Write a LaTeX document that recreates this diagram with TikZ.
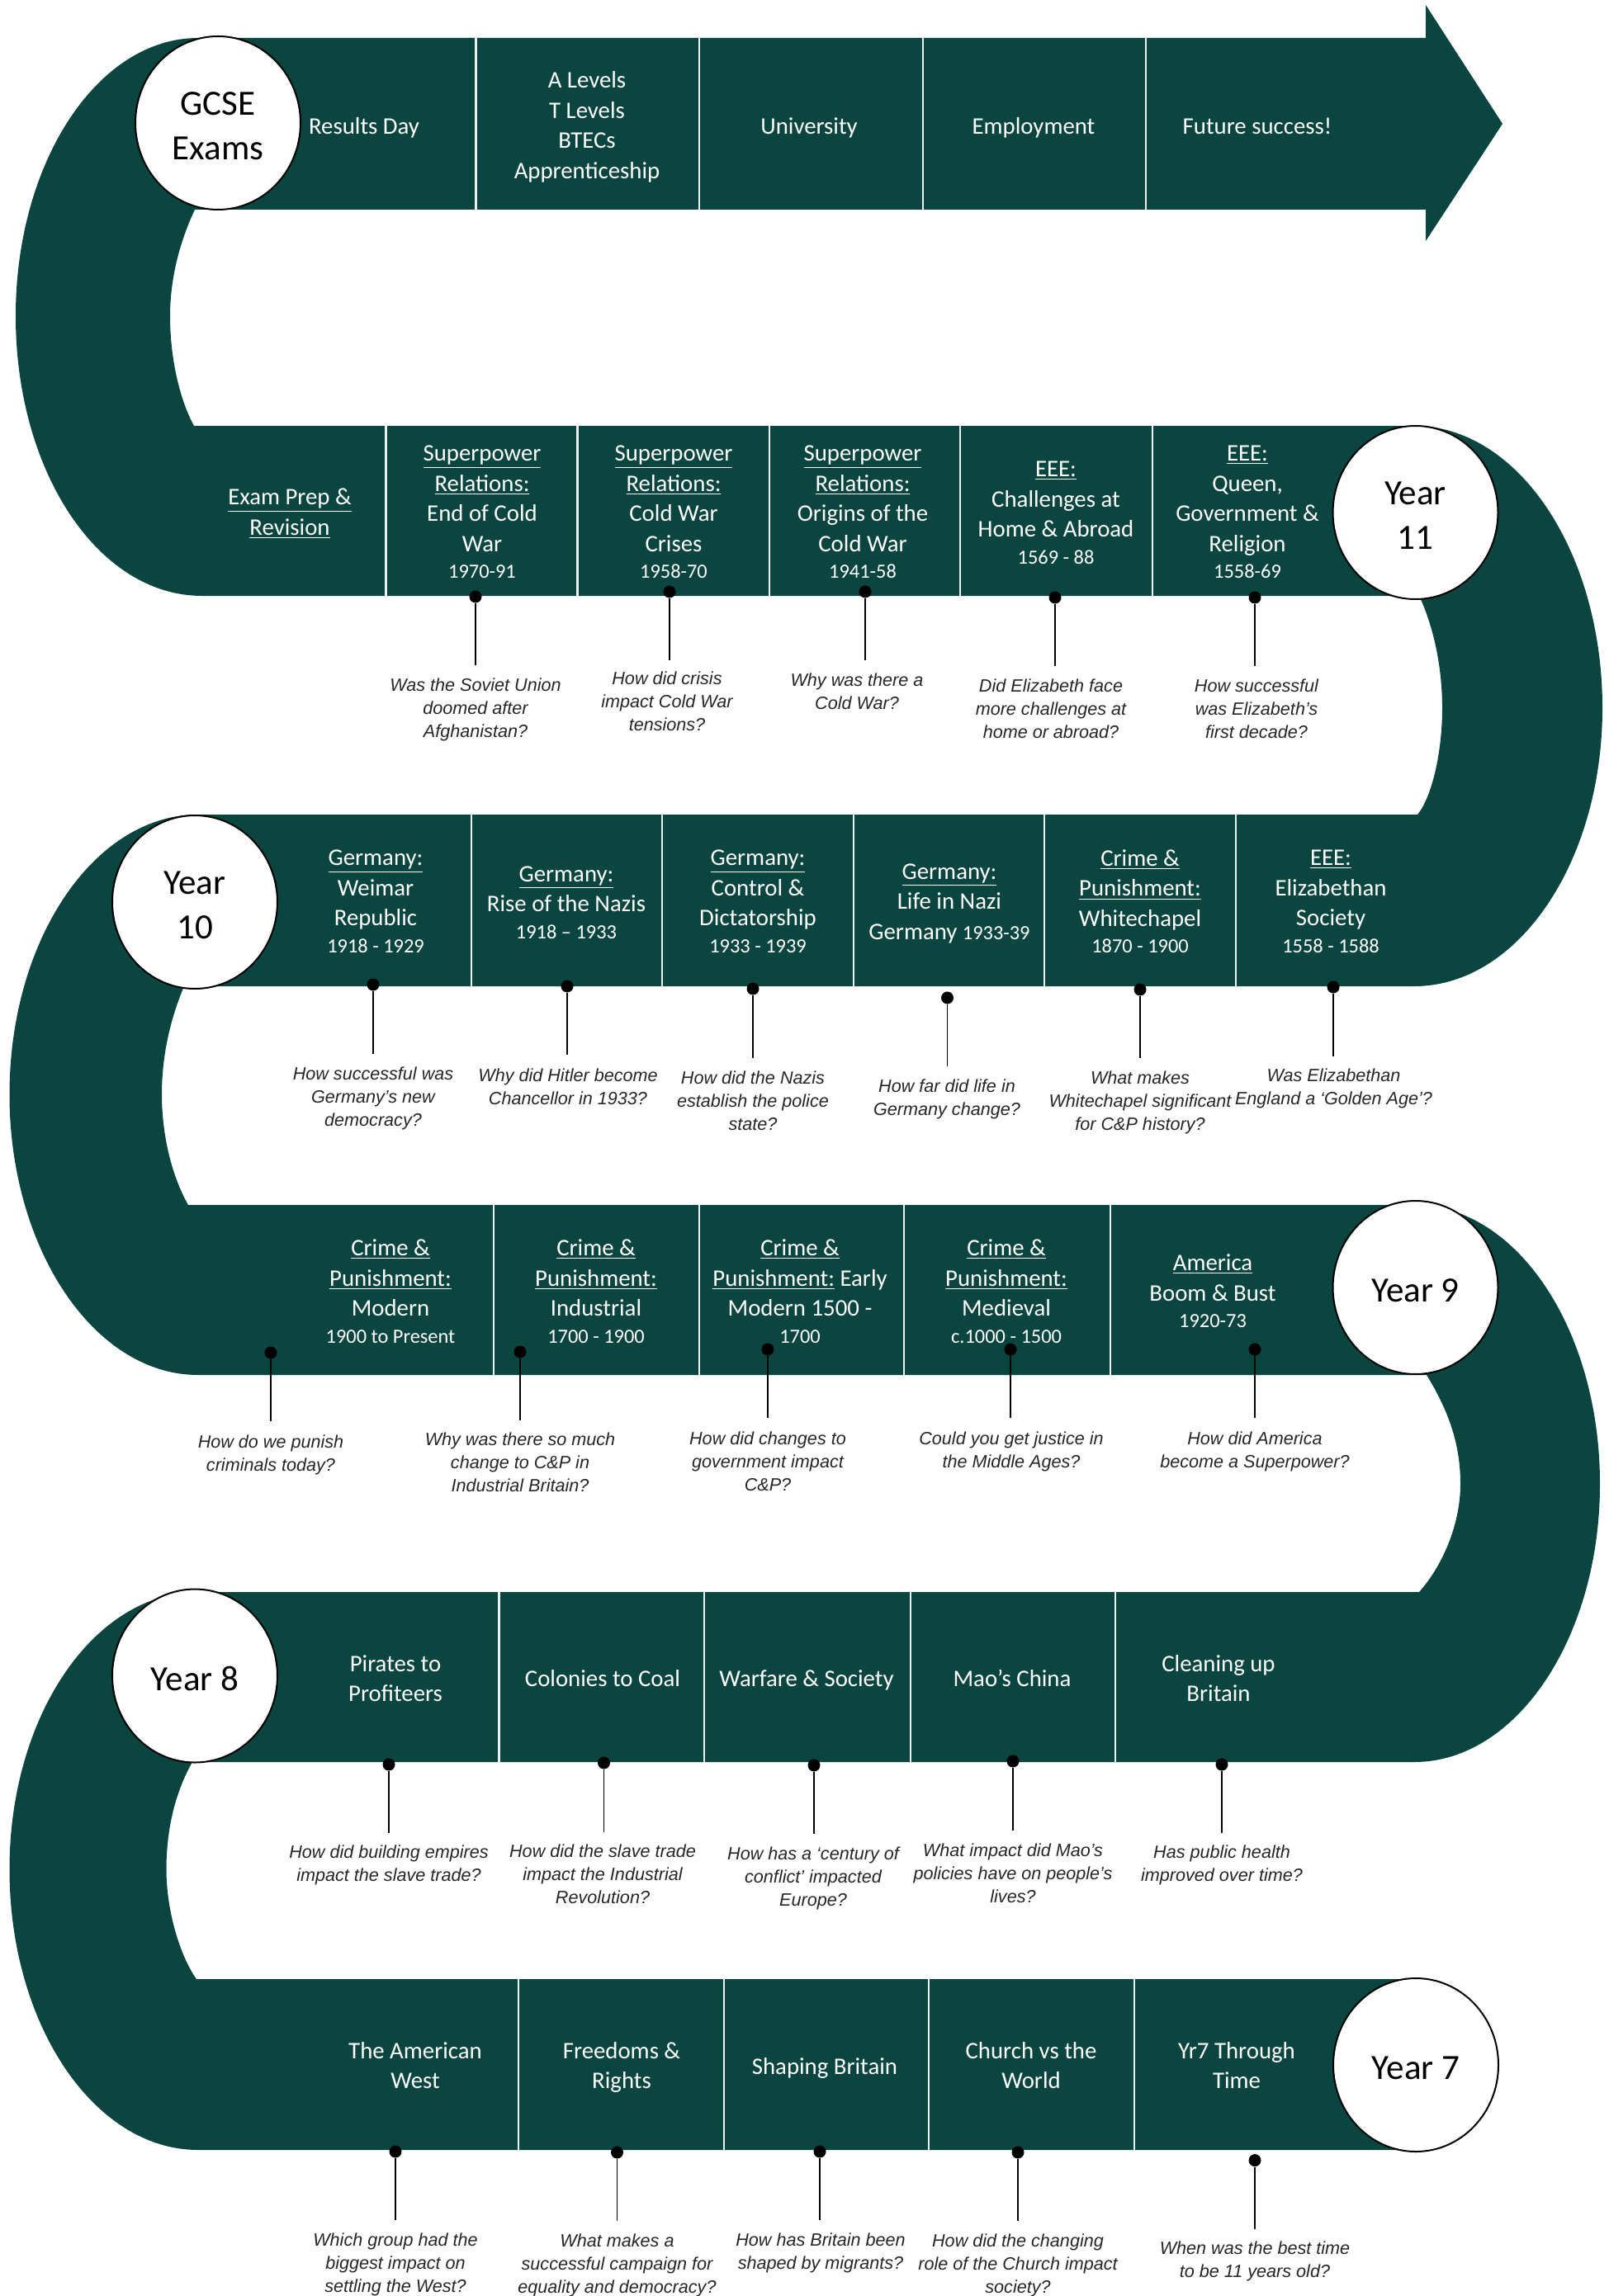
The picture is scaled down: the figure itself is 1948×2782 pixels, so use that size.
\documentclass[tikz,border=0pt]{standalone}
\usepackage{fontspec}
\setmainfont{Carlito}
\newfontfamily\qfont{Liberation Sans}
\usetikzlibrary{shapes.geometric}
\definecolor{bandgreen}{HTML}{0B453F}
\definecolor{qgrey}{HTML}{262626}
\tikzset{
  snake/.style={fill=bandgreen,draw=none},
  divider/.style={draw=white!92!bandgreen,line width=1.2pt},
  cell/.style={text=white,align=center,inner sep=0pt,yshift=-2.4pt,font=\fontsize{14.4}{18.25}\selectfont,
    execute at begin node=\strut,execute at end node=\strut},
  yearc/.style={ellipse,draw=black,line width=1pt,fill=white,text=black,align=center,inner sep=0pt,
    minimum width=100pt,minimum height=105pt,font=\fontsize{21.5}{27}\selectfont},
  pindot/.style={circle,fill=black,draw=none,inner sep=0pt,minimum size=7.5pt},
  pinline/.style={draw=black,line width=0.55pt},
  question/.style={text=qgrey,align=center,inner sep=0pt,yshift=-2.1pt,font=\qfont\itshape\fontsize{10.8}{14}\selectfont,
    execute at begin node=\strut,execute at end node=\strut},
}
\newcommand\yrs[1]{{\fontsize{12.2}{18}\selectfont #1}}
\newcommand\ctop{\rule{0pt}{17.8pt}}
\newcommand\pin[7]{%
  \node[pindot] (d#1) at (#2,#3) {};
  \coordinate (e#1) at (#2,#4);
  \draw[pinline] (d#1) -- (e#1);
  \node[question] (q#1) at (#5,#6) {#7};}
\newcommand\divs[3]{%
  \foreach \dx in {#3} {\draw[divider] (\dx,#1) -- (\dx,#2);}}
\begin{document}
\begin{tikzpicture}[x=0.5pt,y=-0.5pt]
\useasboundingbox (0,0) rectangle (1948,2782);
% the one serpentine band
\path[snake]
  (1727,46) -- (1727,6) -- (1820,150) -- (1727,292) -- (1727,254) -- (236,254)
  .. controls (219,290) and (206,335) .. (206,383)
  .. controls (206,435) and (218,485) .. (235,516)
  -- (1713,516)
  .. controls (1839,516) and (1941,669) .. (1941,858)
  .. controls (1941,1044) and (1839,1195) .. (1713,1195)
  -- (223,1195)
  .. controls (206,1235) and (196,1280) .. (196,1326)
  .. controls (196,1375) and (208,1425) .. (228,1460)
  -- (1713,1460)
  .. controls (1837,1460) and (1938,1611) .. (1938,1798)
  .. controls (1938,1984) and (1837,2135) .. (1713,2135)
  -- (233,2135)
  .. controls (213,2170) and (201.5,2215) .. (201.5,2265)
  .. controls (201.5,2315) and (218,2370) .. (238,2398)
  -- (1715,2398) -- (1715,2605) -- (240,2605)
  .. controls (114,2605) and (11.5,2453) .. (11.5,2265)
  .. controls (11.5,2079) and (114,1929) .. (240,1929)
  -- (1719,1929)
  .. controls (1745,1900) and (1769,1850) .. (1769,1798)
  .. controls (1769,1750) and (1755,1710) .. (1728,1666)
  -- (240,1666)
  .. controls (114,1666) and (11.5,1513) .. (11.5,1326)
  .. controls (11.5,1139) and (114,987) .. (240,987)
  -- (1717,987)
  .. controls (1735,965) and (1747,910) .. (1747,858)
  .. controls (1747,810) and (1737,760) .. (1719,722)
  -- (245,722)
  .. controls (118,722) and (19,570) .. (19,383)
  .. controls (19,197) and (118,46) .. (240,46)
  -- cycle;
% dividers
\divs{46}{254}{576.5,847,1118,1388}
\divs{516}{722}{467.5,699.6,931.7,1163,1396}
\divs{987}{1195}{571,802,1034,1265,1497}
\divs{1460}{1666}{598,847,1095,1345}
\divs{1929}{2135}{604.6,853,1103,1351}
\divs{2398}{2605}{628,877,1125,1374}
% year circles
\node[yearc] (gcse) at (264,149) {\ctop GCSE\\Exams};
\node[yearc] (y11) at (1714.5,621) {\ctop Year\\11};
\node[yearc] (y10) at (236,1093) {\ctop Year\\10};
\node[yearc] (y9) at (1714.5,1560) {\ctop Year 9};
\node[yearc] (y8) at (236,2030.5) {\ctop Year 8};
\node[yearc] (y7) at (1715,2502) {\ctop Year 7};
% row 0
\node[cell] (c01) at (441,150) {Results Day};
\node[cell] (c02) at (711,152) {A Levels\\T Levels\\BTECs\\Apprenticeship};
\node[cell] (c03) at (980,150) {University};
\node[cell] (c04) at (1252,150) {Employment};
\node[cell] (c05) at (1523,150) {Future success!};
% row 1
\node[cell] (c11) at (351,621) {\underline{Exam Prep \&}\\\underline{Revision}};
\node[cell] (c12) at (584,621) {\underline{Superpower}\\\underline{Relations:}\\End of Cold\\War\\[-2pt]\yrs{1970-91}};
\node[cell] (c13) at (816,621) {\underline{Superpower}\\\underline{Relations:}\\Cold War\\Crises\\[-2pt]\yrs{1958-70}};
\node[cell] (c14) at (1045,621) {\underline{Superpower}\\\underline{Relations:}\\Origins of the\\Cold War\\[-2pt]\yrs{1941-58}};
\node[cell] (c15) at (1279,622) {\underline{EEE:}\\Challenges at\\Home \& Abroad\\[-2pt]\yrs{1569 - 88}};
\node[cell] (c16) at (1511,621) {\underline{EEE:}\\Queen,\\Government \&\\Religion\\[-2pt]\yrs{1558-69}};
% row 2
\node[cell] (c21) at (455,1093) {\underline{Germany:}\\Weimar\\Republic\\[-2pt]\yrs{1918 - 1929}};
\node[cell] (c22) at (686,1094) {\underline{Germany:}\\Rise of the Nazis\\[-2pt]\yrs{1918 – 1933}};
\node[cell] (c23) at (918,1093) {\underline{Germany:}\\Control \&\\Dictatorship\\[-2pt]\yrs{1933 - 1939}};
\node[cell] (c24) at (1150,1093) {\underline{Germany:}\\Life in Nazi\\Germany \yrs{1933-39}};
\node[cell] (c25) at (1381,1093) {\underline{Crime \&}\\\underline{Punishment:}\\Whitechapel\\[-2pt]\yrs{1870 - 1900}};
\node[cell] (c26) at (1612,1093) {\underline{EEE:}\\Elizabethan\\Society\\[-2pt]\yrs{1558 - 1588}};
% row 3
\node[cell] (c31) at (473,1565) {\underline{Crime \&}\\\underline{Punishment:}\\Modern\\[-2pt]\yrs{1900 to Present}};
\node[cell] (c32) at (722,1565) {\underline{Crime \&}\\\underline{Punishment:}\\Industrial\\[-2pt]\yrs{1700 - 1900}};
\node[cell] (c33) at (969,1565) {\underline{Crime \&}\\\underline{Punishment:} Early\\Modern 1500 -\\[-2pt]\yrs{1700}};
\node[cell] (c34) at (1219,1565) {\underline{Crime \&}\\\underline{Punishment:}\\Medieval\\[-2pt]\yrs{c.1000 - 1500}};
\node[cell] (c35) at (1469,1565) {\underline{America}\\Boom \& Bust\\[-2pt]\yrs{1920-73}};
% row 4
\node[cell] (c41) at (479,2034) {Pirates to\\Profiteers};
\node[cell] (c42) at (730,2031) {Colonies to Coal};
\node[cell] (c43) at (977,2031) {Warfare \& Society};
\node[cell] (c44) at (1226,2031) {Mao’s China};
\node[cell] (c45) at (1476,2034) {Cleaning up\\Britain};
% row 5
\node[cell] (c51) at (503,2503) {The American\\West};
\node[cell] (c52) at (753,2503) {Freedoms \&\\Rights};
\node[cell] (c53) at (999,2501) {Shaping Britain};
\node[cell] (c54) at (1249,2503) {Church vs the\\World};
\node[cell] (c55) at (1498,2503) {Yr7 Through\\Time};
% pins row 1
\pin{a}{576}{723}{806}{576}{858}{Was the Soviet Union\\doomed after\\Afghanistan?}
\pin{b}{811}{717}{800}{808}{850}{How did crisis\\impact Cold War\\tensions?}
\pin{c}{1048}{717}{800}{1038}{838}{Why was there a\\Cold War?}
\pin{d}{1278}{724}{807}{1273}{859}{Did Elizabeth face\\more challenges at\\home or abroad?}
\pin{e}{1520}{724}{807}{1522}{859}{How successful\\was Elizabeth’s\\first decade?}
% pins row 2
\pin{f}{452}{1193}{1277}{452}{1329}{How successful was\\Germany’s new\\democracy?}
\pin{g}{687}{1195}{1278}{688}{1317}{Why did Hitler become\\Chancellor in 1933?}
\pin{h}{912}{1198}{1282}{912}{1334}{How did the Nazis\\establish the police\\state?}
\pin{i}{1147.5}{1209}{1292}{1147}{1329.5}{How far did life in\\Germany change?}
\pin{j}{1381}{1199}{1282}{1381}{1334}{What makes\\Whitechapel significant\\for C\&P history?}
\pin{k}{1615}{1196}{1280}{1615.5}{1317}{Was Elizabethan\\England  a ‘Golden  Age’?}
% pins row 3
\pin{l}{328}{1639}{1722}{328}{1761}{How do we punish\\criminals today?}
\pin{m}{630}{1638}{1721}{630}{1772}{Why was there so much\\change to C\&P in\\Industrial Britain?}
\pin{n}{930}{1635}{1718}{930}{1771}{How did changes to\\government impact\\C\&P?}
\pin{o}{1224}{1635}{1718}{1225}{1757}{Could you get justice in\\the Middle Ages?}
\pin{p}{1520}{1635}{1718}{1520}{1757}{How did America\\become a Superpower?}
% pins row 4
\pin{r}{471}{2138}{2221}{471}{2258}{How did building empires\\impact the slave trade?}
\pin{s}{731.5}{2136}{2219.5}{730}{2271}{How did the slave trade\\impact the Industrial\\Revolution?}
\pin{t}{986}{2139}{2222}{985}{2273.5}{How has a ‘century of\\conflict’ impacted\\Europe?}
\pin{u}{1227}{2134}{2218}{1227}{2269.5}{What impact did Mao’s\\policies have on people’s\\lives?}
\pin{v}{1480}{2138}{2221}{1480}{2258}{Has public health\\improved over time?}
% pins row 5
\pin{w}{479}{2607}{2690}{479}{2742}{Which group had the\\biggest impact on\\settling the West?}
\pin{x}{747.5}{2608}{2691}{747.5}{2743}{What makes a\\successful campaign for\\equality and democracy?}
\pin{y}{993}{2607}{2690}{994}{2727.5}{How has Britain been\\shaped by migrants?}
\pin{z}{1233}{2608}{2691}{1233}{2743}{How did the changing\\role of the Church impact\\society?}
\pin{aa}{1520}{2617.6}{2701}{1520}{2738}{When was the best time\\to be 11 years old?}
\end{tikzpicture}
\end{document}
